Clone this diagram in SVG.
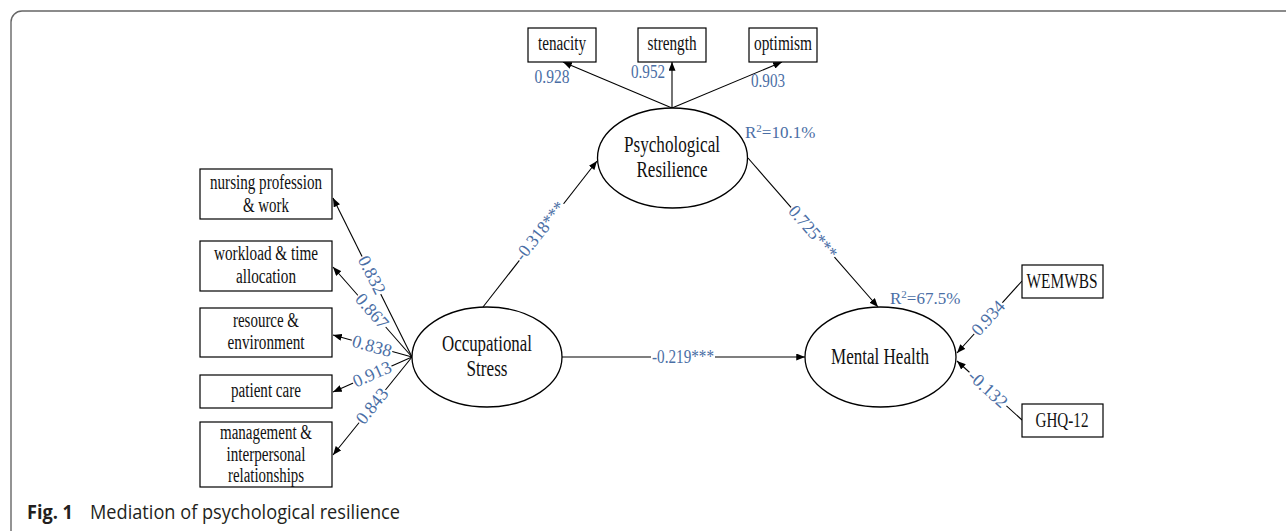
<svg xmlns="http://www.w3.org/2000/svg" width="1287" height="531" viewBox="0 0 1287 531">
<defs>
<marker id="arr" viewBox="0 0 10 8" refX="10" refY="4" markerWidth="9" markerHeight="7" orient="auto" markerUnits="userSpaceOnUse"><path d="M0,0 L10,4 L0,8 z" fill="#000"/></marker>
<style>
.box{fill:#fff;stroke:#000;stroke-width:1.2}
.ell{fill:#fff;stroke:#000;stroke-width:1.3}
.t{font-family:"Liberation Serif","Times New Roman",serif;font-size:20px;fill:#111;text-anchor:middle}
.te{font-family:"Liberation Serif","Times New Roman",serif;font-size:23px;fill:#111;text-anchor:middle}
.c{stroke:#000;stroke-width:1.1;fill:none;marker-end:url(#arr)}
.l{font-family:"Liberation Serif","Times New Roman",serif;font-size:18px;fill:#4a6ea5;text-anchor:middle}
.bg{fill:#fff}
.r{font-family:"Liberation Serif","Times New Roman",serif;font-size:17px;fill:#4a6ea5}
.cap{font-family:"Open Sans","Noto Sans","Liberation Sans",sans-serif;font-size:20px;fill:#231f20}
</style>
</defs>
<rect width="1287" height="531" fill="#fff"/>
<path d="M11,531 V22 A11,11 0 0 1 22,11 H1286" fill="none" stroke="#666" stroke-width="1.4"/>

<g id="connectors">
<line class="c" x1="412" y1="357" x2="333" y2="198"/>
<line class="c" x1="412" y1="357" x2="333" y2="267"/>
<line class="c" x1="412" y1="357" x2="333" y2="335"/>
<line class="c" x1="412" y1="357" x2="333" y2="392"/>
<line class="c" x1="412" y1="357" x2="333" y2="455"/>
<line class="c" x1="483" y1="307" x2="597" y2="161"/>
<line class="c" x1="562" y1="357" x2="805" y2="357"/>
<line class="c" x1="748" y1="158" x2="878" y2="307"/>
<line class="c" x1="672" y1="108" x2="563" y2="62"/>
<line class="c" x1="672" y1="108" x2="672" y2="62"/>
<line class="c" x1="672" y1="108" x2="782" y2="62"/>
<line class="c" x1="1022" y1="281" x2="957" y2="353"/>
<line class="c" x1="1022" y1="420" x2="957" y2="361"/>

<g transform="translate(372,275) rotate(63.6)"><rect class="bg" x="-21" y="-7" width="42" height="14"/><text class="l" y="6">0.832</text></g>
<g transform="translate(372,311) rotate(48.7)"><rect class="bg" x="-21" y="-7" width="42" height="14"/><text class="l" y="6">0.867</text></g>
<g transform="translate(372,346) rotate(15.6)"><rect class="bg" x="-21" y="-7" width="42" height="14"/><text class="l" y="6">0.838</text></g>
<g transform="translate(372,374) rotate(-23.9)"><rect class="bg" x="-21" y="-7" width="42" height="14"/><text class="l" y="6">0.913</text></g>
<g transform="translate(372,406) rotate(-51.1)"><rect class="bg" x="-21" y="-7" width="42" height="14"/><text class="l" y="6">0.843</text></g>
<g transform="translate(540,231) rotate(-51.8)"><rect class="bg" x="-36" y="-7" width="72" height="14"/><text class="l" y="6" textLength="70" lengthAdjust="spacingAndGlyphs">-0.318***</text></g>
<g transform="translate(813,232) rotate(48.9)"><rect class="bg" x="-33" y="-7" width="66" height="14"/><text class="l" y="6" textLength="64" lengthAdjust="spacingAndGlyphs">0.725***</text></g>
<g transform="translate(683,357)"><rect class="bg" x="-32" y="-7" width="64" height="14"/><text class="l" y="6" textLength="62" lengthAdjust="spacingAndGlyphs">-0.219***</text></g>
<g transform="translate(988,318) rotate(-47.9)"><rect class="bg" x="-21" y="-7" width="42" height="14"/><text class="l" y="6">0.934</text></g>
<g transform="translate(988,389) rotate(42.2)"><rect class="bg" x="-25" y="-7" width="50" height="14"/><text class="l" y="6">-0.132</text></g>
<text class="l" x="552" y="83" textLength="35" lengthAdjust="spacingAndGlyphs">0.928</text>
<text class="l" x="648" y="78" textLength="34" lengthAdjust="spacingAndGlyphs">0.952</text>
<text class="l" x="768" y="87" textLength="34" lengthAdjust="spacingAndGlyphs">0.903</text>
<text class="r" x="745" y="138">R<tspan font-size="11" baseline-shift="super">2</tspan>=10.1%</text>
<text class="r" x="890" y="304">R<tspan font-size="11" baseline-shift="super">2</tspan>=67.5%</text>
</g>

<g id="n-nursing"><rect class="box" x="200" y="169" width="132" height="50"/>
<text class="t" x="266" y="189" textLength="112" lengthAdjust="spacingAndGlyphs">nursing profession</text>
<text class="t" x="266" y="212" textLength="46" lengthAdjust="spacingAndGlyphs">&amp; work</text></g>

<g id="n-workload"><rect class="box" x="200" y="241" width="132" height="50"/>
<text class="t" x="266" y="260" textLength="104" lengthAdjust="spacingAndGlyphs">workload &amp; time</text>
<text class="t" x="266" y="283" textLength="60" lengthAdjust="spacingAndGlyphs">allocation</text></g>

<g id="n-resource"><rect class="box" x="200" y="308" width="132" height="49"/>
<text class="t" x="266" y="327" textLength="66" lengthAdjust="spacingAndGlyphs">resource &amp;</text>
<text class="t" x="266" y="349" textLength="77" lengthAdjust="spacingAndGlyphs">environment</text></g>

<g id="n-patient"><rect class="box" x="200" y="375" width="132" height="33"/>
<text class="t" x="266" y="397" textLength="70" lengthAdjust="spacingAndGlyphs">patient care</text></g>

<g id="n-management"><rect class="box" x="200" y="422" width="132" height="65"/>
<text class="t" x="266" y="439" textLength="92" lengthAdjust="spacingAndGlyphs">management &amp;</text>
<text class="t" x="266" y="461" textLength="79" lengthAdjust="spacingAndGlyphs">interpersonal</text>
<text class="t" x="266" y="482" textLength="76" lengthAdjust="spacingAndGlyphs">relationships</text></g>

<g id="n-tenacity"><rect class="box" x="528" y="28" width="68" height="34"/>
<text class="t" x="562" y="50" textLength="48" lengthAdjust="spacingAndGlyphs">tenacity</text></g>
<g id="n-strength"><rect class="box" x="638" y="28" width="68" height="34"/>
<text class="t" x="672" y="50" textLength="49" lengthAdjust="spacingAndGlyphs">strength</text></g>
<g id="n-optimism"><rect class="box" x="749" y="28" width="68" height="34"/>
<text class="t" x="783" y="50" textLength="58" lengthAdjust="spacingAndGlyphs">optimism</text></g>

<g id="n-wemwbs"><rect class="box" x="1022" y="265" width="81" height="33"/>
<text class="t" x="1062" y="288" textLength="71" lengthAdjust="spacingAndGlyphs">WEMWBS</text></g>
<g id="n-ghq"><rect class="box" x="1022" y="404" width="81" height="33"/>
<text class="t" x="1062" y="427" textLength="53" lengthAdjust="spacingAndGlyphs">GHQ-12</text></g>

<g id="n-occupational"><ellipse class="ell" cx="487" cy="357" rx="75" ry="50"/>
<text class="te" x="487" y="351" textLength="90" lengthAdjust="spacingAndGlyphs">Occupational</text>
<text class="te" x="487" y="376" textLength="41" lengthAdjust="spacingAndGlyphs">Stress</text></g>

<g id="n-psych"><ellipse class="ell" cx="672.5" cy="158" rx="75" ry="50"/>
<text class="te" x="672" y="152" textLength="96" lengthAdjust="spacingAndGlyphs">Psychological</text>
<text class="te" x="672" y="177" textLength="71" lengthAdjust="spacingAndGlyphs">Resilience</text></g>

<g id="n-mental"><ellipse class="ell" cx="880.5" cy="357" rx="75.5" ry="50"/>
<text class="te" x="880" y="364" textLength="98" lengthAdjust="spacingAndGlyphs">Mental Health</text></g>

<g id="caption">
<text class="cap" x="27" y="519" font-weight="bold" textLength="46" lengthAdjust="spacingAndGlyphs">Fig. 1</text>
<text class="cap" x="90" y="519" textLength="310" lengthAdjust="spacingAndGlyphs">Mediation of psychological resilience</text>
</g>
</svg>
